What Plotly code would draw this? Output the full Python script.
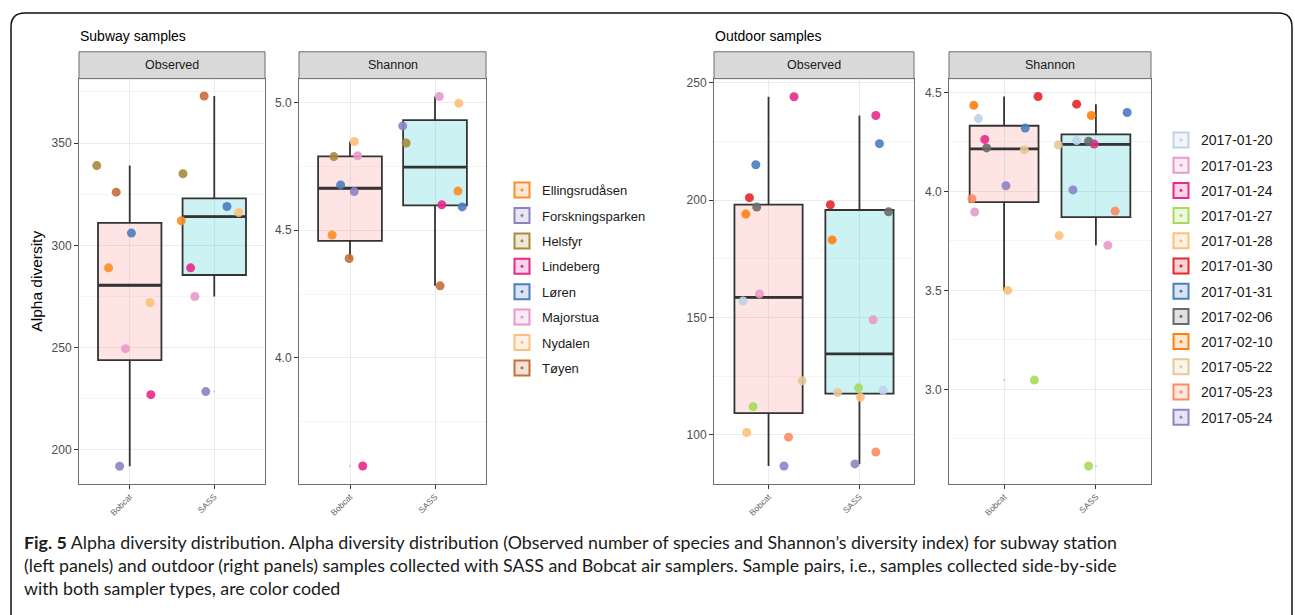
import numpy as np
import plotly.graph_objects as go

# ---------------- data ----------------
SUBWAY_STATIONS = ["Ellingsrudåsen", "Forskningsparken", "Helsfyr", "Lindeberg",
                   "Løren", "Majorstua", "Nydalen", "Tøyen"]
SUBWAY_OBS_BOBCAT = [289, 192, 339, 227, 306, 249.5, 272, 326]
SUBWAY_OBS_SASS = [312, 228.5, 335, 289, 319, 275, 316, 373]
SUBWAY_SHANNON_BOBCAT = [4.481, 4.651, 4.788, 3.577, 4.677, 4.791, 4.847, 4.389]
SUBWAY_SHANNON_SASS = [4.653, 4.908, 4.841, 4.599, 4.591, 5.023, 4.997, 4.282]

OUTDOOR_DATES = ["2017-01-20", "2017-01-23", "2017-01-24", "2017-01-27", "2017-01-28",
                 "2017-01-30", "2017-01-31", "2017-02-06", "2017-02-10", "2017-05-22",
                 "2017-05-23", "2017-05-24"]
OUTDOOR_OBS_BOBCAT = [157, 160, 244, 112, 101, 201, 215, 197, 194, 123, 99, 86.7]
OUTDOOR_OBS_SASS = [119, 149, 236, 120, 116, 198, 224, 195, 183, 118, 92.7, 87.6]
OUTDOOR_SHANNON_BOBCAT = [4.368, 3.896, 4.263, 3.047, 3.500, 4.480, 4.320, 4.220,
                          4.435, 4.210, 3.963, 4.029]
OUTDOOR_SHANNON_SASS = [4.257, 3.728, 4.240, 2.613, 3.777, 4.441, 4.399, 4.254,
                        4.384, 4.235, 3.901, 4.008]

SAMPLERS = ["Bobcat", "SASS"]
PANEL_TITLES = ["Observed", "Shannon", "Observed", "Shannon"]

# horizontal jitter (category units) as seen in the picture
JIT_SUB_OBS_B = [-0.25, -0.12, -0.39, 0.25, 0.02, -0.05, 0.24, -0.16]
JIT_SUB_OBS_S = [-0.39, -0.10, -0.37, -0.28, 0.15, -0.23, 0.29, -0.12]
JIT_SUB_SH_B = [-0.21, 0.05, -0.19, 0.15, -0.11, 0.09, 0.05, -0.01]
JIT_SUB_SH_S = [0.27, -0.38, -0.34, 0.08, 0.32, 0.05, 0.28, 0.06]
JIT_OUT_OBS_B = [-0.28, -0.10, 0.28, -0.17, -0.24, -0.21, -0.14, -0.13, -0.25, 0.37, 0.22, 0.17]
JIT_OUT_OBS_S = [0.26, 0.15, 0.18, -0.01, 0.01, -0.32, 0.22, 0.32, -0.30, -0.24, 0.18, -0.05]
JIT_OUT_SH_B = [-0.28, -0.32, -0.21, 0.33, 0.04, 0.37, 0.23, -0.19, -0.33, 0.22, -0.35, 0.02]
JIT_OUT_SH_S = [-0.21, 0.13, -0.02, -0.08, -0.40, -0.21, 0.34, -0.08, -0.05, -0.41, 0.21, -0.25]

# ---------------- styles ----------------
SUBWAY_COLORS = ["#FC8D27", "#8C83C4", "#A88A3C", "#E8298A",
                 "#4B7DC0", "#E898CB", "#FDC07A", "#C56E35"]
OUTDOOR_COLORS = ["#BCD4EA", "#E99AC9", "#E7298A", "#A8DA5A", "#FDC07A", "#E4282E",
                  "#4A7DC0", "#6B6B6B", "#FF8010", "#E6C79A", "#FB8C62", "#8E84C6"]
BOX_FILL = ["rgba(248,118,109,0.2)", "rgba(0,191,196,0.2)"]
BOX_WIDTH = 0.75

W, H = 1295, 615


def fx(p):
    return p / W


def fy(p):
    return 1 - p / H


def tint(hexc, a=0.25):
    h = hexc.lstrip("#")
    r, g, b = int(h[0:2], 16), int(h[2:4], 16), int(h[4:6], 16)
    return f"rgba({r},{g},{b},{a})"


PANELS_X = [(79, 265), (299, 486), (714, 914), (949, 1151)]
PANEL_TOP, PANEL_BOT = 76, 483
STRIP_TOP = 49
YRANGES = [(183.5, 381.5), (3.508, 5.093), (79.2, 251.7), (2.524, 4.570)]
YDTICK = [50, 0.5, 50, 0.5]
YTICKFMT = ["", ".1f", "", ".1f"]

fig = go.Figure()


def box_stats(vals):
    v = np.asarray(vals, dtype=float)
    q1, med, q3 = np.percentile(v, [25, 50, 75])
    iqr = q3 - q1
    lo_f, hi_f = q1 - 1.5 * iqr, q3 + 1.5 * iqr
    inside = v[(v >= lo_f) & (v <= hi_f)]
    out = v[(v < lo_f) | (v > hi_f)]
    return q1, med, q3, inside.min(), inside.max(), out


panel_data = [
    ([SUBWAY_OBS_BOBCAT, SUBWAY_OBS_SASS], [JIT_SUB_OBS_B, JIT_SUB_OBS_S], SUBWAY_STATIONS, SUBWAY_COLORS),
    ([SUBWAY_SHANNON_BOBCAT, SUBWAY_SHANNON_SASS], [JIT_SUB_SH_B, JIT_SUB_SH_S], SUBWAY_STATIONS, SUBWAY_COLORS),
    ([OUTDOOR_OBS_BOBCAT, OUTDOOR_OBS_SASS], [JIT_OUT_OBS_B, JIT_OUT_OBS_S], OUTDOOR_DATES, OUTDOOR_COLORS),
    ([OUTDOOR_SHANNON_BOBCAT, OUTDOOR_SHANNON_SASS], [JIT_OUT_SH_B, JIT_OUT_SH_S], OUTDOOR_DATES, OUTDOOR_COLORS),
]

for pi, (series, jits, names, colors) in enumerate(panel_data):
    xa = "x" if pi == 0 else f"x{pi+1}"
    ya = "y" if pi == 0 else f"y{pi+1}"
    # boxes
    for si, vals in enumerate(series):
        q1, med, q3, lo, hi, out = box_stats(vals)
        fig.add_trace(go.Box(
            x=[si + 1], q1=[q1], median=[med], q3=[q3], lowerfence=[lo], upperfence=[hi],
            width=BOX_WIDTH, whiskerwidth=0, fillcolor=BOX_FILL[si],
            line=dict(color="#333333", width=1.8),
            boxpoints=False, showlegend=False, hoverinfo="skip", xaxis=xa, yaxis=ya))
        # thicker median line (ggplot fatten)
        fig.add_trace(go.Scatter(
            x=[si + 1 - BOX_WIDTH / 2, si + 1 + BOX_WIDTH / 2], y=[med, med], mode="lines",
            line=dict(color="#333333", width=2.8), showlegend=False, hoverinfo="skip",
            xaxis=xa, yaxis=ya))
        if len(out):
            fig.add_trace(go.Scatter(
                x=[si + 1] * len(out), y=list(out), mode="markers",
                marker=dict(size=2, color="#C8C8C8"), showlegend=False,
                hoverinfo="skip", xaxis=xa, yaxis=ya))
    # jittered points
    for ni, name in enumerate(names):
        xs = [si + 1 + jits[si][ni] for si in range(2)]
        ys = [series[si][ni] for si in range(2)]
        fig.add_trace(go.Scatter(
            x=xs, y=ys, mode="markers", name=name, legendgroup=name,
            marker=dict(size=9, color=colors[ni], opacity=0.9),
            showlegend=False, xaxis=xa, yaxis=ya))

# legend-only entries
for names, colors, leg, xa, ya in [(SUBWAY_STATIONS, SUBWAY_COLORS, "legend", "x", "y"),
                                   (OUTDOOR_DATES, OUTDOOR_COLORS, "legend2", "x3", "y3")]:
    for name, c in zip(names, colors):
        fig.add_trace(go.Scatter(
            x=[None], y=[None], mode="markers", name=name, legendgroup=name,
            legend=leg, marker=dict(symbol="square-dot", size=15, color=tint(c, 0.2),
                                    line=dict(width=2, color=c)),
            showlegend=True, xaxis=xa, yaxis=ya))

layout = dict(
    width=W, height=H, margin=dict(l=0, r=0, t=0, b=0),
    paper_bgcolor="white", plot_bgcolor="white",
    font=dict(family="Liberation Sans, Arial, sans-serif", color="#1A1A1A"),
    showlegend=True,
)

shapes = []
annotations = []
for pi, (x0, x1) in enumerate(PANELS_X):
    k = "" if pi == 0 else str(pi + 1)
    layout[f"xaxis{k}"] = dict(
        domain=[fx(x0), fx(x1)], anchor=f"y{k}", range=[0.4, 2.6],
        tickvals=[1, 2], ticktext=SAMPLERS, tickangle=-45,
        tickfont=dict(size=8.5, color="#666666"), ticks="outside", ticklen=4,
        tickcolor="#333333", showgrid=True, gridcolor="#EBEBEB", gridwidth=1,
        showline=True, mirror=True, linecolor="#6E6E6E", linewidth=1,
        zeroline=False, fixedrange=True)
    lo, hi = YRANGES[pi]
    layout[f"yaxis{k}"] = dict(
        domain=[fy(PANEL_BOT), fy(PANEL_TOP)], anchor=f"x{k}", range=[lo, hi],
        dtick=YDTICK[pi], tick0=0, tickformat=YTICKFMT[pi],
        tickfont=dict(size=12, color="#4D4D4D"), ticks="outside", ticklen=4,
        tickcolor="#333333", showgrid=True, gridcolor="#EBEBEB", gridwidth=1,
        minor=dict(dtick=YDTICK[pi] / 2, tick0=0, showgrid=True,
                   gridcolor="#F5F5F5", gridwidth=0.8, ticks=""),
        showline=True, mirror=True, linecolor="#6E6E6E", linewidth=1,
        zeroline=False, fixedrange=True)
    # strip
    shapes.append(dict(type="rect", xref="paper", yref="paper",
                       x0=fx(x0), x1=fx(x1), y0=fy(PANEL_TOP), y1=fy(STRIP_TOP),
                       fillcolor="#D9D9D9", line=dict(color="#6E6E6E", width=1)))
    annotations.append(dict(text=PANEL_TITLES[pi], xref="paper", yref="paper",
                            x=fx((x0 + x1) / 2), y=fy((STRIP_TOP + PANEL_TOP) / 2),
                            showarrow=False, font=dict(size=12.5, color="#1A1A1A"),
                            xanchor="center", yanchor="middle"))

annotations += [
    dict(text="Subway samples", xref="paper", yref="paper", x=fx(78), y=fy(33),
         xanchor="left", yanchor="middle", showarrow=False,
         font=dict(size=14, color="#000000")),
    dict(text="Outdoor samples", xref="paper", yref="paper", x=fx(713), y=fy(33),
         xanchor="left", yanchor="middle", showarrow=False,
         font=dict(size=14, color="#000000")),
    dict(text="Alpha diversity", xref="paper", yref="paper", x=fx(37), y=fy(280),
         xanchor="center", yanchor="middle", textangle=-90, showarrow=False,
         font=dict(size=15.5, color="#000000")),
    dict(text="<b>Fig. 5</b> Alpha diversity distribution. Alpha diversity distribution "
              "(Observed number of species and Shannon’s diversity index) for subway station<br>"
              "(left panels) and outdoor (right panels) samples collected with SASS and Bobcat "
              "air samplers. Sample pairs, i.e., samples collected side-by-side<br>"
              "with both sampler types, are color coded",
         xref="paper", yref="paper", x=fx(22), y=fy(529), xanchor="left", yanchor="top",
         align="left", showarrow=False,
         font=dict(family="Lato, sans-serif", size=17.8, color="#1A1A1A")),
]

# outer rounded frame
r = 14
L, T, R, B = 11, 10, 1292, 630
path = (f"M {fx(L+r)},{fy(T)} L {fx(R-r)},{fy(T)} Q {fx(R)},{fy(T)} {fx(R)},{fy(T+r)} "
        f"L {fx(R)},{fy(B-r)} Q {fx(R)},{fy(B)} {fx(R-r)},{fy(B)} "
        f"L {fx(L+r)},{fy(B)} Q {fx(L)},{fy(B)} {fx(L)},{fy(B-r)} "
        f"L {fx(L)},{fy(T+r)} Q {fx(L)},{fy(T)} {fx(L+r)},{fy(T)} Z")
shapes.append(dict(type="path", path=path, xref="paper", yref="paper",
                   line=dict(color="#111111", width=1.5)))

layout["shapes"] = shapes
layout["annotations"] = annotations
layout["legend"] = dict(x=fx(502), y=fy(173), xanchor="left", yanchor="top",
                        font=dict(size=13, color="#1A1A1A"), tracegroupgap=5.5,
                        bgcolor="rgba(0,0,0,0)", itemsizing="trace")
layout["legend2"] = dict(x=fx(1161), y=fy(122), xanchor="left", yanchor="top",
                         font=dict(size=14, color="#1A1A1A"), tracegroupgap=4,
                         bgcolor="rgba(0,0,0,0)", itemsizing="trace")

fig.update_layout(**layout)
fig.write_html("out.html")
